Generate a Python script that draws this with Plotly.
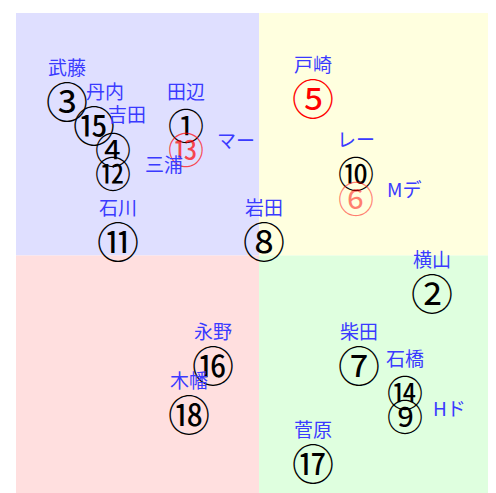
import plotly.graph_objects as go

# circled marker, name label, position on the map
marks = ["③", "⑮", "④", "⑫", "①", "⑬", "⑪", "⑧", "⑤",
         "⑩", "⑥", "②", "⑦", "⑭", "⑨", "⑯", "⑱", "⑰"]
names = ["武藤", "丹内", "吉田", "三浦", "田辺", "マー", "石川", "岩田", "戸崎",
         "レー", "Mデ", "横山", "柴田", "石橋", "Hド", "永野", "木幡", "菅原"]
x_vals = [-7.9, -6.8, -6.0, -6.0, -3.0, -3.0, -5.8, 0.2, 2.2,
          4.0, 4.0, 7.1, 4.1, 6.0, 6.0, -1.9, -2.9, 2.2]
y_vals = [6.4, 5.4, 4.4, 3.4, 5.4, 4.4, 0.6, 0.6, 6.5,
          3.4, 2.4, -1.5, -4.5, -5.6, -6.6, -4.5, -6.5, -8.5]
big = [True, True, False, False, False, False, True, True, True,
       False, False, True, True, False, False, True, True, True]
mark_color = {"⑤": "#ff0000", "⑬": "rgba(255,0,0,0.7)", "⑥": "rgba(255,0,0,0.5)"}

# label offsets in pixels (dx, dy) relative to the point
label_off = {"丹内": (11, 34), "吉田": (14, 35), "三浦": (51, 9), "マー": (50, 9),
             "Mデ": (48, 9), "Hド": (45, 8)}

fig = go.Figure()

# quadrant backgrounds
quads = [(-10, 0, 0, 10, "#dfdfff"), (0, 10, 0, 10, "#ffffdf"),
         (-10, 0, -10, 0, "#ffdfdf"), (0, 10, -10, 0, "#dfffdf")]
for x0, x1, y0, y1, c in quads:
    fig.add_shape(type="rect", x0=x0, x1=x1, y0=y0, y1=y1, fillcolor=c,
                  line=dict(width=0), layer="below")

# invisible points so the axes know the data
fig.add_trace(go.Scatter(x=x_vals, y=y_vals, mode="markers",
                         marker=dict(size=1, opacity=0),
                         hoverinfo="skip", showlegend=False))

for m, b, x, y in zip(marks, big, x_vals, y_vals):
    fig.add_annotation(x=x, y=y, text=m, showarrow=False, yshift=-3,
                       font=dict(family="DejaVu Serif, Noto Sans CJK JP",
                                 size=42 if b else 36,
                                 color=mark_color.get(m, "#000000")))

for n, x, y in zip(names, x_vals, y_vals):
    dx, dy = label_off.get(n, (0, 34))
    fig.add_annotation(x=x, y=y, text=n, showarrow=False, xshift=dx, yshift=dy,
                       font=dict(family="Noto Sans CJK JP", size=19, color="#3a3aff"))

fig.update_xaxes(range=[-10, 9.75], visible=False, fixedrange=True)
fig.update_yaxes(range=[-9.77, 9.98], visible=False, fixedrange=True)
fig.update_layout(
    width=488, height=485,
    margin=dict(l=8, r=0, t=5, b=0),
    paper_bgcolor="white", plot_bgcolor="white",
)

fig.write_html("out.html")
